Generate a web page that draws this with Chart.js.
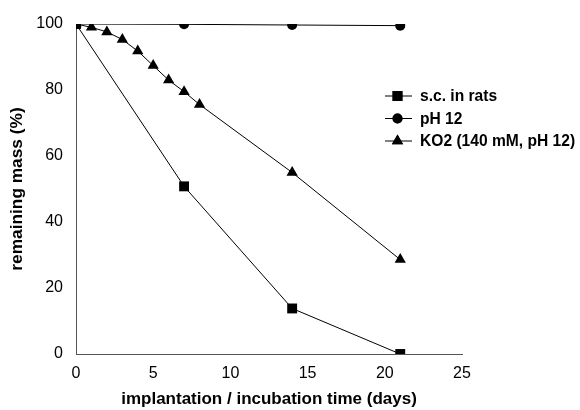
<!DOCTYPE html>
<html>
<head>
<meta charset="utf-8">
<script src="https://cdn.jsdelivr.net/npm/chart.js@4"></script>
<style>
  html, body { margin: 0; padding: 0; background: #fff; }
  #c { display: block; }
</style>
</head>
<body>
<canvas id="c" width="580" height="410"></canvas>
<script>
const seriesNames = ['s.c. in rats', 'pH 12', 'KO2 (140 mM, pH 12)'];
const ratsDays = [0, 7, 14, 21];
const ratsMass = [100, 50.8, 13.8, 0];
const ph12Days = [0, 7, 14, 21];
const ph12Mass = [100, 99.9, 99.7, 99.5];
const ko2Days = [0, 1, 2, 3, 4, 5, 6, 7, 8, 14, 21];
const ko2Mass = [100, 99, 97.6, 95.3, 91.8, 87.4, 83, 79.5, 75.6, 55, 28.6];

const toPoints = (xs, ys) => xs.map((x, i) => ({ x: x, y: ys[i] }));

const FONT = 'Liberation Sans, Arial, sans-serif';

// legend drawn by hand: line through the marker, bold labels
const sideLegend = {
  id: 'sideLegend',
  afterDraw(chart) {
    const ctx = chart.ctx;
    ctx.save();
    chart.data.datasets.forEach((ds, i) => {
      const y = 96 + i * 22.5;
      ctx.strokeStyle = '#000';
      ctx.lineWidth = 1;
      ctx.beginPath();
      ctx.moveTo(385, y);
      ctx.lineTo(412, y);
      ctx.stroke();
      ctx.fillStyle = '#000';
      Chart.helpers.drawPoint(ctx, {
        pointStyle: ds.pointStyle,
        radius: ds.pointRadius,
        rotation: 0,
        borderWidth: 0
      }, 397.5, y);
      ctx.fill();
      ctx.font = 'bold 15.6px ' + FONT;
      ctx.textBaseline = 'middle';
      ctx.textAlign = 'left';
      ctx.fillText(ds.label, 420, y + 1);
    });
    ctx.restore();
  }
};

const common = {
  borderColor: '#000',
  borderWidth: 1,
  backgroundColor: '#000',
  pointBackgroundColor: '#000',
  pointBorderColor: '#000',
  pointBorderWidth: 0,
  fill: false,
  tension: 0
};

new Chart(document.getElementById('c').getContext('2d'), {
  type: 'scatter',
  data: {
    datasets: [
      Object.assign({ label: seriesNames[0], data: toPoints(ratsDays, ratsMass), showLine: true, pointStyle: 'rect', pointRadius: 7 }, common),
      Object.assign({ label: seriesNames[1], data: toPoints(ph12Days, ph12Mass), showLine: true, pointStyle: 'circle', pointRadius: 5 }, common),
      Object.assign({ label: seriesNames[2], data: toPoints(ko2Days, ko2Mass), showLine: true, pointStyle: 'triangle', pointRadius: 6.5 }, common)
    ]
  },
  options: {
    responsive: false,
    animation: false,
    layout: { padding: { left: 0, top: 24, right: 118, bottom: 0 } },
    plugins: {
      legend: { display: false },
      tooltip: { enabled: false }
    },
    scales: {
      x: {
        type: 'linear',
        min: 0,
        max: 25,
        afterFit: s => { s.height = 56; },
        ticks: { stepSize: 5, color: '#000', font: { family: FONT, size: 16 }, padding: 5 },
        grid: { display: false, drawTicks: true, tickLength: 5, color: '#555' },
        border: { display: true, color: '#555', width: 1 },
        title: { display: true, text: 'implantation / incubation time (days)', color: '#000', font: { family: FONT, size: 17, weight: 'bold' }, padding: { top: 4, bottom: 0 } }
      },
      y: {
        type: 'linear',
        min: 0,
        max: 100,
        afterFit: s => { s.width = 76; },
        ticks: { stepSize: 20, color: '#000', font: { family: FONT, size: 16 }, padding: 8 },
        grid: { display: false, drawTicks: true, tickLength: 5, color: '#555' },
        border: { display: true, color: '#555', width: 1 },
        title: { display: true, text: 'remaining mass (%)', color: '#000', font: { family: FONT, size: 17.3, weight: 'bold' }, padding: { top: 7, bottom: 2 } }
      }
    }
  },
  plugins: [sideLegend]
});
</script>
</body>
</html>
